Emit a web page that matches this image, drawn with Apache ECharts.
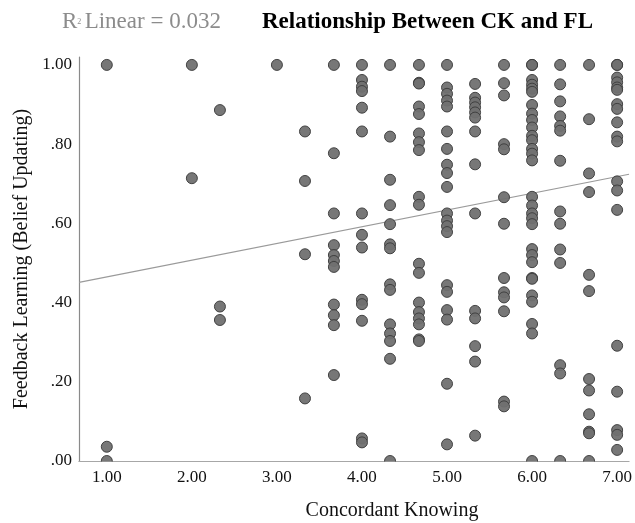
<!DOCTYPE html>
<html>
<head>
<meta charset="utf-8">
<script src="https://cdn.jsdelivr.net/npm/echarts@6/dist/echarts.min.js"></script>
<style>
  html, body { margin: 0; padding: 0; background: #fff; }
  #chart { width: 635px; height: 523px; }
</style>
</head>
<body>
<div id="chart"></div>
<script>
// Concordant Knowing (CK) levels, one column of points per level
const ckLevels = [1.00, 2.00, 2.33, 3.00, 3.33, 3.67, 4.00, 4.33, 4.67, 5.00, 5.33, 5.67, 6.00, 6.33, 6.67, 7.00];

// Feedback Learning (FL) scores observed at each CK level (same order as ckLevels)
const flByLevel = [
  [1.00, 0.036, 0.00],
  [1.00, 0.714],
  [0.886, 0.39, 0.356],
  [1.00],
  [0.832, 0.707, 0.522, 0.158],
  [1.00, 0.777, 0.625, 0.545, 0.52, 0.505, 0.49, 0.395, 0.368, 0.343, 0.217],
  [1.00, 0.962, 0.945, 0.934, 0.892, 0.832, 0.625, 0.571, 0.539, 0.407, 0.396, 0.354, 0.057, 0.047],
  [1.00, 0.819, 0.71, 0.646, 0.598, 0.547, 0.537, 0.446, 0.432, 0.345, 0.322, 0.303, 0.258, 0.00],
  [1.00, 0.955, 0.953, 0.895, 0.876, 0.827, 0.805, 0.785, 0.667, 0.647, 0.498, 0.475, 0.40, 0.376, 0.36, 0.345, 0.307, 0.303],
  [1.00, 0.943, 0.927, 0.91, 0.895, 0.832, 0.788, 0.748, 0.727, 0.692, 0.625, 0.607, 0.593, 0.578, 0.444, 0.427, 0.381, 0.357, 0.195, 0.042],
  [0.952, 0.917, 0.905, 0.893, 0.88, 0.867, 0.832, 0.749, 0.625, 0.379, 0.36, 0.29, 0.251, 0.064],
  [1.00, 0.954, 0.923, 0.80, 0.787, 0.666, 0.599, 0.462, 0.426, 0.413, 0.378, 0.15, 0.138],
  [1.00, 1.00, 0.962, 0.95, 0.94, 0.932, 0.899, 0.877, 0.861, 0.842, 0.821, 0.81, 0.788, 0.776, 0.759, 0.667, 0.645, 0.625, 0.613, 0.598, 0.535, 0.52, 0.502, 0.462, 0.46, 0.418, 0.402, 0.346, 0.322, 0.00],
  [1.00, 0.951, 0.908, 0.87, 0.846, 0.834, 0.758, 0.63, 0.599, 0.534, 0.50, 0.242, 0.221, 0.00],
  [1.00, 0.863, 0.726, 0.679, 0.47, 0.429, 0.207, 0.178, 0.118, 0.074, 0.07, 0.00],
  [1.00, 1.00, 0.968, 0.956, 0.943, 0.937, 0.901, 0.889, 0.855, 0.819, 0.807, 0.706, 0.683, 0.634, 0.291, 0.175, 0.078, 0.066, 0.028]
];

// Linear fit line, endpoints at the two edges of the plot area
const fitLine = [[0.673, 0.451], [7.14, 0.724]];

// Tick labels
const xTicks = [1, 2, 3, 4, 5, 6, 7];
const yTicks = [0, 0.2, 0.4, 0.6, 0.8, 1.0];

const chartTitle = 'Relationship Between CK and FL';
const fitNote = 'Linear = 0.032';
const xName = 'Concordant Knowing';
const yName = 'Feedback Learning (Belief Updating)';

const points = [];
ckLevels.forEach((ck, i) => {
  flByLevel[i].forEach(fl => points.push([ck, fl]));
});

const serif = '"Liberation Serif", "DejaVu Serif", serif';
const chart = echarts.init(document.getElementById('chart'), null, { renderer: 'canvas' });

chart.setOption({
  animation: false,
  backgroundColor: '#ffffff',
  grid: { left: 79, right: 3, top: 57, bottom: 62, containLabel: false },
  xAxis: {
    type: 'value',
    min: 0.673,
    max: 7.14,
    axisLine: { show: true, lineStyle: { color: '#8a8a8a', width: 1.2 } },
    axisTick: { show: false },
    splitLine: { show: false },
    axisLabel: {
      customValues: xTicks,
      fontFamily: serif, fontSize: 17, color: '#111', margin: 8,
      formatter: v => v.toFixed(2)
    }
  },
  yAxis: {
    type: 'value',
    min: 0,
    max: 1.02,
    name: yName,
    nameLocation: 'middle',
    nameGap: 47,
    nameRotate: 90,
    nameTextStyle: { fontFamily: serif, fontSize: 20, color: '#111' },
    axisLine: { show: true, lineStyle: { color: '#8a8a8a', width: 1.2 } },
    axisTick: { show: false },
    splitLine: { show: false },
    axisLabel: {
      customValues: yTicks,
      fontFamily: serif, fontSize: 17, color: '#111', margin: 7,
      formatter: v => v.toFixed(2).replace(/^0/, '')
    }
  },
  series: [
    {
      type: 'line',
      data: fitLine,
      symbol: 'none',
      lineStyle: { color: '#9a9a9a', width: 1.2 },
      z: 2
    },
    {
      type: 'scatter',
      data: points,
      symbol: 'circle',
      symbolSize: 11,
      itemStyle: { color: '#707070', borderColor: '#3c3c3c', borderWidth: 1, opacity: 0.95 },
      z: 3
    }
  ],
  graphic: [
    {
      // masks the lower half of markers sitting on the .00 baseline
      type: 'rect',
      shape: { x: 79, y: 461.7, width: 556, height: 6 },
      style: { fill: '#ffffff' },
      z: 10
    },
    {
      type: 'text',
      style: {
        x: 392, y: 501, text: xName, align: 'center', verticalAlign: 'top',
        font: '20px ' + serif, fill: '#111'
      }
    },
    {
      type: 'text',
      style: {
        x: 262, y: 22, text: chartTitle, align: 'left', verticalAlign: 'middle',
        font: 'bold 23px ' + serif, fill: '#000'
      }
    },
    {
      type: 'text',
      style: {
        x: 62, y: 22, align: 'left', verticalAlign: 'middle',
        text: '{r|R}{s|2} {r|' + fitNote + '}',
        rich: {
          r: { fontFamily: serif, fontSize: 23, fill: '#8c8c8c', color: '#8c8c8c' },
          s: { fontFamily: serif, fontSize: 8, fill: '#8c8c8c', color: '#8c8c8c' }
        }
      }
    }
  ]
});
</script>
</body>
</html>
